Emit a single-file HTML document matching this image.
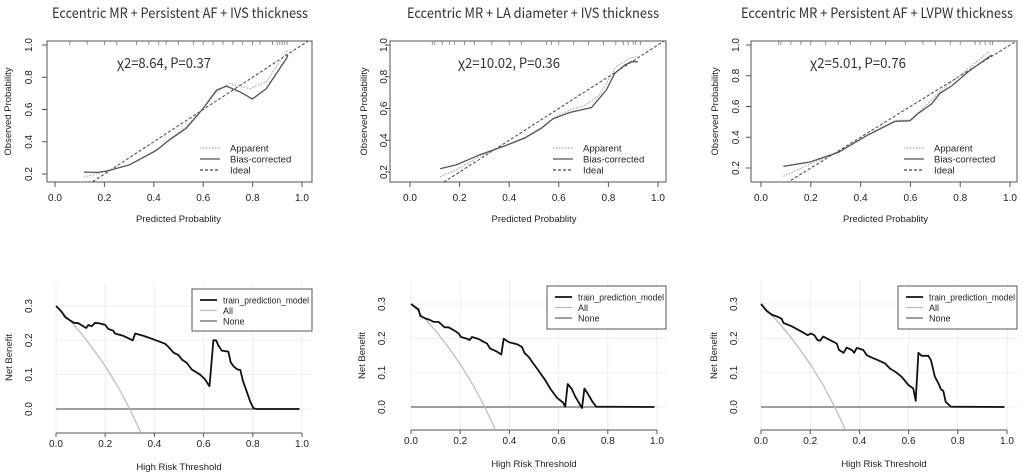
<!DOCTYPE html>
<html><head><meta charset="utf-8">
<style>
html,body{margin:0;padding:0;background:#fff;}
svg{display:block;}
text{font-family:"Liberation Sans",Arial,sans-serif;fill:#222;}
.title{font-family:"Noto Sans CJK SC","Liberation Sans",sans-serif;font-size:14px;fill:#333;}
</style></head>
<body>
<svg id="chart" width="1022" height="476" viewBox="0 0 1022 476" xmlns="http://www.w3.org/2000/svg"></svg>
<script>
// ---------- DATA ----------
const calTitles = ["Eccentric MR + Persistent AF + IVS thickness","Eccentric MR + LA diameter + IVS thickness","Eccentric MR + Persistent AF + LVPW thickness"];
const calStats = ["χ2=8.64, P=0.37","χ2=10.02, P=0.36","χ2=5.01, P=0.76"];
const calTicks = [0,0.2,0.4,0.6,0.8,1.0];
const calYTicks = [0.2,0.4,0.6,0.8,1.0];
const bias1X=[0.117,0.174,0.215,0.302,0.41,0.464,0.532,0.6,0.654,0.694,0.748,0.799,0.856,0.937,0.943];
const bias1Y=[0.212,0.21,0.22,0.257,0.346,0.412,0.484,0.607,0.72,0.745,0.71,0.665,0.73,0.916,0.936];
const app1X=[0.117,0.181,0.302,0.41,0.532,0.6,0.654,0.707,0.756,0.79,0.856,0.943];
const app1Y=[0.181,0.206,0.257,0.35,0.494,0.607,0.71,0.761,0.74,0.73,0.772,0.971];
const bias2X=[0.121,0.188,0.282,0.389,0.463,0.53,0.577,0.644,0.732,0.758,0.792,0.826,0.866,0.893,0.919];
const bias2Y=[0.221,0.246,0.309,0.368,0.414,0.476,0.535,0.575,0.606,0.654,0.717,0.822,0.874,0.895,0.895];
const app2X=[0.121,0.188,0.282,0.389,0.463,0.53,0.577,0.644,0.711,0.765,0.832,0.886,0.919];
const app2Y=[0.169,0.215,0.30,0.37,0.418,0.48,0.54,0.59,0.623,0.686,0.864,0.916,0.931];
const bias3X=[0.09,0.197,0.311,0.424,0.538,0.598,0.632,0.685,0.719,0.766,0.833,0.926];
const bias3Y=[0.211,0.239,0.302,0.41,0.503,0.507,0.556,0.617,0.686,0.734,0.827,0.935];
const app3X=[0.09,0.197,0.311,0.424,0.538,0.598,0.632,0.685,0.719,0.833,0.92];
const app3Y=[0.146,0.226,0.302,0.413,0.508,0.512,0.56,0.643,0.697,0.847,0.963];
const rug1=[0.06,0.13,0.2,0.25,0.33,0.38,0.42,0.45,0.5,0.56,0.6,0.64,0.68,0.72,0.76,0.8,0.83,0.88,0.9,0.91,0.92,0.93,0.94];
const rug2=[0.09,0.1,0.13,0.16,0.18,0.22,0.26,0.33,0.4,0.45,0.55,0.57,0.6,0.66,0.72,0.78,0.83,0.86,0.88,0.9,0.91,0.93];
const rug3=[0.07,0.08,0.12,0.16,0.2,0.26,0.31,0.36,0.44,0.5,0.58,0.65,0.7,0.76,0.8,0.86,0.88,0.9,0.92,0.93];

const dcaTicks=[0,0.2,0.4,0.6,0.8,1.0];
const dcaYTicks=[0,0.1,0.2,0.3];
const allT=[0,0.05,0.1,0.15,0.2,0.25,0.3,0.35];
const allNB=[0.3,0.263,0.222,0.176,0.125,0.067,0,-0.077];
const m1T=[0,0.016,0.027,0.037,0.057,0.073,0.091,0.111,0.122,0.132,0.145,0.159,0.179,0.2,0.213,0.233,0.24,0.274,0.312,0.322,0.356,0.396,0.444,0.457,0.478,0.498,0.512,0.532,0.552,0.586,0.606,0.624,0.64,0.651,0.66,0.674,0.701,0.71,0.722,0.738,0.749,0.76,0.773,0.79,0.803,0.817,0.99];
const m1NB=[0.3,0.289,0.279,0.268,0.258,0.251,0.25,0.241,0.236,0.245,0.241,0.251,0.249,0.245,0.233,0.228,0.22,0.213,0.2,0.22,0.213,0.203,0.19,0.181,0.164,0.157,0.144,0.134,0.115,0.1,0.086,0.066,0.2,0.2,0.185,0.17,0.167,0.136,0.124,0.115,0.114,0.081,0.055,0.021,0.002,0,0];
const m2T=[0,0.031,0.038,0.058,0.079,0.092,0.112,0.126,0.136,0.153,0.18,0.194,0.203,0.228,0.238,0.248,0.275,0.295,0.309,0.322,0.35,0.367,0.377,0.397,0.431,0.451,0.461,0.478,0.499,0.512,0.526,0.546,0.566,0.593,0.618,0.627,0.637,0.654,0.668,0.695,0.705,0.722,0.736,0.753,0.99];
const m2NB=[0.3,0.284,0.265,0.258,0.253,0.248,0.248,0.239,0.232,0.232,0.221,0.214,0.204,0.199,0.195,0.204,0.198,0.19,0.185,0.17,0.161,0.153,0.199,0.189,0.183,0.175,0.158,0.146,0.125,0.112,0.098,0.078,0.054,0.027,0.013,0.001,0.067,0.052,0.03,-0.003,0.054,0.035,0.017,0.001,0];
const m3T=[0,0.023,0.043,0.07,0.084,0.091,0.125,0.159,0.19,0.203,0.217,0.23,0.24,0.253,0.28,0.308,0.317,0.336,0.348,0.369,0.379,0.389,0.416,0.43,0.45,0.477,0.504,0.524,0.545,0.572,0.599,0.619,0.629,0.64,0.653,0.68,0.691,0.707,0.721,0.732,0.741,0.751,0.772,0.99];
const m3NB=[0.3,0.28,0.269,0.262,0.257,0.245,0.235,0.222,0.209,0.214,0.209,0.195,0.193,0.205,0.195,0.185,0.166,0.158,0.173,0.166,0.158,0.172,0.166,0.151,0.144,0.136,0.127,0.112,0.103,0.088,0.064,0.054,0.018,0.158,0.149,0.149,0.136,0.088,0.069,0.051,0.047,0.015,0.001,0];

// ---------- LAYOUT ----------
const NS="http://www.w3.org/2000/svg";
const svg=document.getElementById('chart');
function el(tag,attrs,parent){const e=document.createElementNS(NS,tag);for(const k in attrs)e.setAttribute(k,attrs[k]);(parent||svg).appendChild(e);return e;}

const calPanels=[
 {box:[47,41,312,182],x0:55,x1:302,y02:174,y10:45,tx:52,tw:256,ytl:32,yl:11,bias:[bias1X,bias1Y],app:[app1X,app1Y],rug:rug1,statX:117,sw:94,legX:200},
 {box:[390,41,666,182],x0:410,x1:658,y02:172,y10:45,tx:407,tw:252,ytl:387,yl:367,bias:[bias2X,bias2Y],app:[app2X,app2Y],rug:rug2,statX:458,sw:102,legX:553},
 {box:[751,41,1017,182],x0:761,x1:1010,y02:168,y10:45,tx:741,tw:272,ytl:739,yl:718,bias:[bias3X,bias3Y],app:[app3X,app3Y],rug:rug3,statX:810,sw:96,legX:904}
];
calPanels.forEach((p,i)=>{
  const g=el('g',{});
  
  
  const sx=v=>p.x0+(p.x1-p.x0)*v;
  const sy=v=>p.y02+(p.y10-p.y02)*(v-0.2)/0.8;
  const t=el('text',{x:p.tx,y:18,class:'title',textLength:p.tw,lengthAdjust:'spacingAndGlyphs'},g);t.textContent=calTitles[i];
  
  const [l,tp,r,b]=p.box;
  const clipId='cc'+i;
  const cp=el('clipPath',{id:clipId},g);el('rect',{x:l,y:tp,width:r-l,height:b-tp},cp);
  el('rect',{x:l,y:tp,width:r-l,height:b-tp,fill:'none',stroke:'#555','stroke-width':1},g);
  calTicks.forEach(v=>{el('line',{x1:sx(v),x2:sx(v),y1:b,y2:b+5,stroke:'#555'},g);
    const tt=el('text',{x:sx(v),y:201,'text-anchor':'middle','font-size':10},g);tt.textContent=v.toFixed(1);
    });
  calYTicks.forEach(v=>{el('line',{x1:l,x2:l-5,y1:sy(v),y2:sy(v),stroke:'#555'},g);
    const tt=el('text',{x:p.ytl,y:sy(v),'text-anchor':'middle','font-size':10,transform:`rotate(-90 ${p.ytl} ${sy(v)})`},g);tt.textContent=v.toFixed(1);
    });
  const xl=el('text',{x:(p.x0+p.x1)/2,y:222,'text-anchor':'middle','font-size':9.5},g);xl.textContent='Predicted Probablity';
  
  const ym=(tp+b)/2;
  const yl=el('text',{x:p.yl,y:ym,'text-anchor':'middle','font-size':9.5,transform:`rotate(-90 ${p.yl} ${ym})`},g);yl.textContent='Observed Probability';
  
  p.rug.forEach(v=>{const m=el('line',{x1:sx(v),x2:sx(v),y1:tp,y2:tp+4,stroke:'#777','stroke-width':0.8},g);
    });
  const cg=el('g',{'clip-path':`url(#${clipId})`},g);
  const ideal=el('line',{x1:sx(0),y1:sy(0),x2:sx(1.1),y2:sy(1.1),stroke:'#444','stroke-width':1,'stroke-dasharray':'3,2'},cg);
  
  const path=(xs,ys)=>xs.map((x,k)=>(k?'L':'M')+sx(x).toFixed(1)+','+sy(ys[k]).toFixed(1)).join('');
  const ap=el('path',{d:path(p.app[0],p.app[1]),fill:'none',stroke:'#aaa','stroke-width':1.2,'stroke-dasharray':'1.5,1.5'},cg);
  
  const bp=el('path',{d:path(p.bias[0],p.bias[1]),fill:'none',stroke:'#555','stroke-width':1.3},cg);
  
  const st=el('text',{x:p.statX,y:68,class:'title',textLength:p.sw,lengthAdjust:'spacingAndGlyphs'},g);st.textContent=calStats[i];
  
  const lg=el('g',{},g);
  [['Apparent','#aaa','1.5,1.5'],['Bias-corrected','#555',''],['Ideal','#444','3,2']].forEach((e,k)=>{
    const yy=148+k*11;
    el('line',{x1:p.legX,x2:p.legX+20,y1:yy,y2:yy,stroke:e[1],'stroke-width':1.2,'stroke-dasharray':e[2]||'none'},lg);
    const lt=el('text',{x:p.legX+30,y:yy+3.5,'font-size':9.5},lg);lt.textContent=e[0];
    
  });
});

const dcaPanels=[
 {x0:56,x1:302,y0:409,y3:306,ax:433,right:312,ytl:32,yl:12,leg:[192,289,312,331],m:[m1T,m1NB]},
 {x0:411,x1:657,y0:407,y3:304,ax:430,right:666,ytl:385,yl:365,leg:[547,286,666,329],m:[m2T,m2NB]},
 {x0:761,x1:1007,y0:407,y3:304,ax:430,right:1017,ytl:737,yl:717,leg:[898,286,1017,329],m:[m3T,m3NB]}
];
dcaPanels.forEach((p,i)=>{
  const g=el('g',{});
  
  
  const sx=v=>p.x0+(p.x1-p.x0)*v;
  const sy=v=>p.y0+(p.y3-p.y0)*v/0.3;
  const top=p.leg[1]-6;
  dcaTicks.forEach(v=>el('line',{x1:sx(v),x2:sx(v),y1:top,y2:p.ax,stroke:'#eee','stroke-width':1},g));
  dcaYTicks.forEach(v=>el('line',{x1:p.x0,x2:p.right,y1:sy(v),y2:sy(v),stroke:'#eee','stroke-width':1},g));
  el('line',{x1:sx(0),x2:sx(1),y1:p.ax,y2:p.ax,stroke:'#555','stroke-width':1},g);
  dcaTicks.forEach(v=>{el('line',{x1:sx(v),x2:sx(v),y1:p.ax,y2:p.ax+4,stroke:'#555'},g);
    const tt=el('text',{x:sx(v),y:p.ax+14,'text-anchor':'middle','font-size':10},g);tt.textContent=v.toFixed(1);
    });
  dcaYTicks.forEach(v=>{const tt=el('text',{x:p.ytl,y:sy(v),'text-anchor':'middle','font-size':10,transform:`rotate(-90 ${p.ytl} ${sy(v)})`},g);tt.textContent=v.toFixed(1);
    });
  const xl=el('text',{x:(p.x0+p.x1)/2,y:p.ax+37,'text-anchor':'middle','font-size':9.5},g);xl.textContent='High Risk Threshold';
  
  const ym=(p.y3+p.y0)/2;
  const yl=el('text',{x:p.yl,y:ym,'text-anchor':'middle','font-size':9.5,transform:`rotate(-90 ${p.yl} ${ym})`},g);yl.textContent='Net Benefit';
  
  const cid='dc'+i;
  const cp=el('clipPath',{id:cid},g);el('rect',{x:p.x0-5,y:top,width:p.right-p.x0+5,height:p.ax-top},cp);
  const cg=el('g',{'clip-path':`url(#${cid})`},g);
  const path=(xs,ys)=>xs.map((x,k)=>(k?'L':'M')+sx(x).toFixed(1)+','+sy(ys[k]).toFixed(1)).join('');
  const none=el('line',{x1:sx(0),x2:sx(0.99),y1:sy(0),y2:sy(0),stroke:'#666','stroke-width':1.3},cg);
  
  const all=el('path',{d:path(allT,allNB),fill:'none',stroke:'#bbb','stroke-width':1.2},cg);
  
  const mp=el('path',{d:path(p.m[0],p.m[1]),fill:'none',stroke:'#111','stroke-width':1.8,'stroke-linejoin':'round'},cg);
  
  const [l,t,r,b]=p.leg;
  const lg=el('g',{},g);
  el('rect',{x:l,y:t,width:r-l,height:b-t,fill:'#fff',stroke:'#555','stroke-width':1},lg);
  [['train_prediction_model','#111',1.8,86],['All','#bbb',1.2,0],['None','#666',1.3,0]].forEach((e,k)=>{
    const yy=t+11+k*10.5;
    el('line',{x1:l+8,x2:l+25,y1:yy,y2:yy,stroke:e[1],'stroke-width':e[2]},lg);
    const at={x:l+31,y:yy+3.5,'font-size':9};
    if(e[3]){at.textLength=e[3];at.lengthAdjust='spacingAndGlyphs';}
    const lt=el('text',at,lg);lt.textContent=e[0];
    
  });
});
</script>
</body></html>
